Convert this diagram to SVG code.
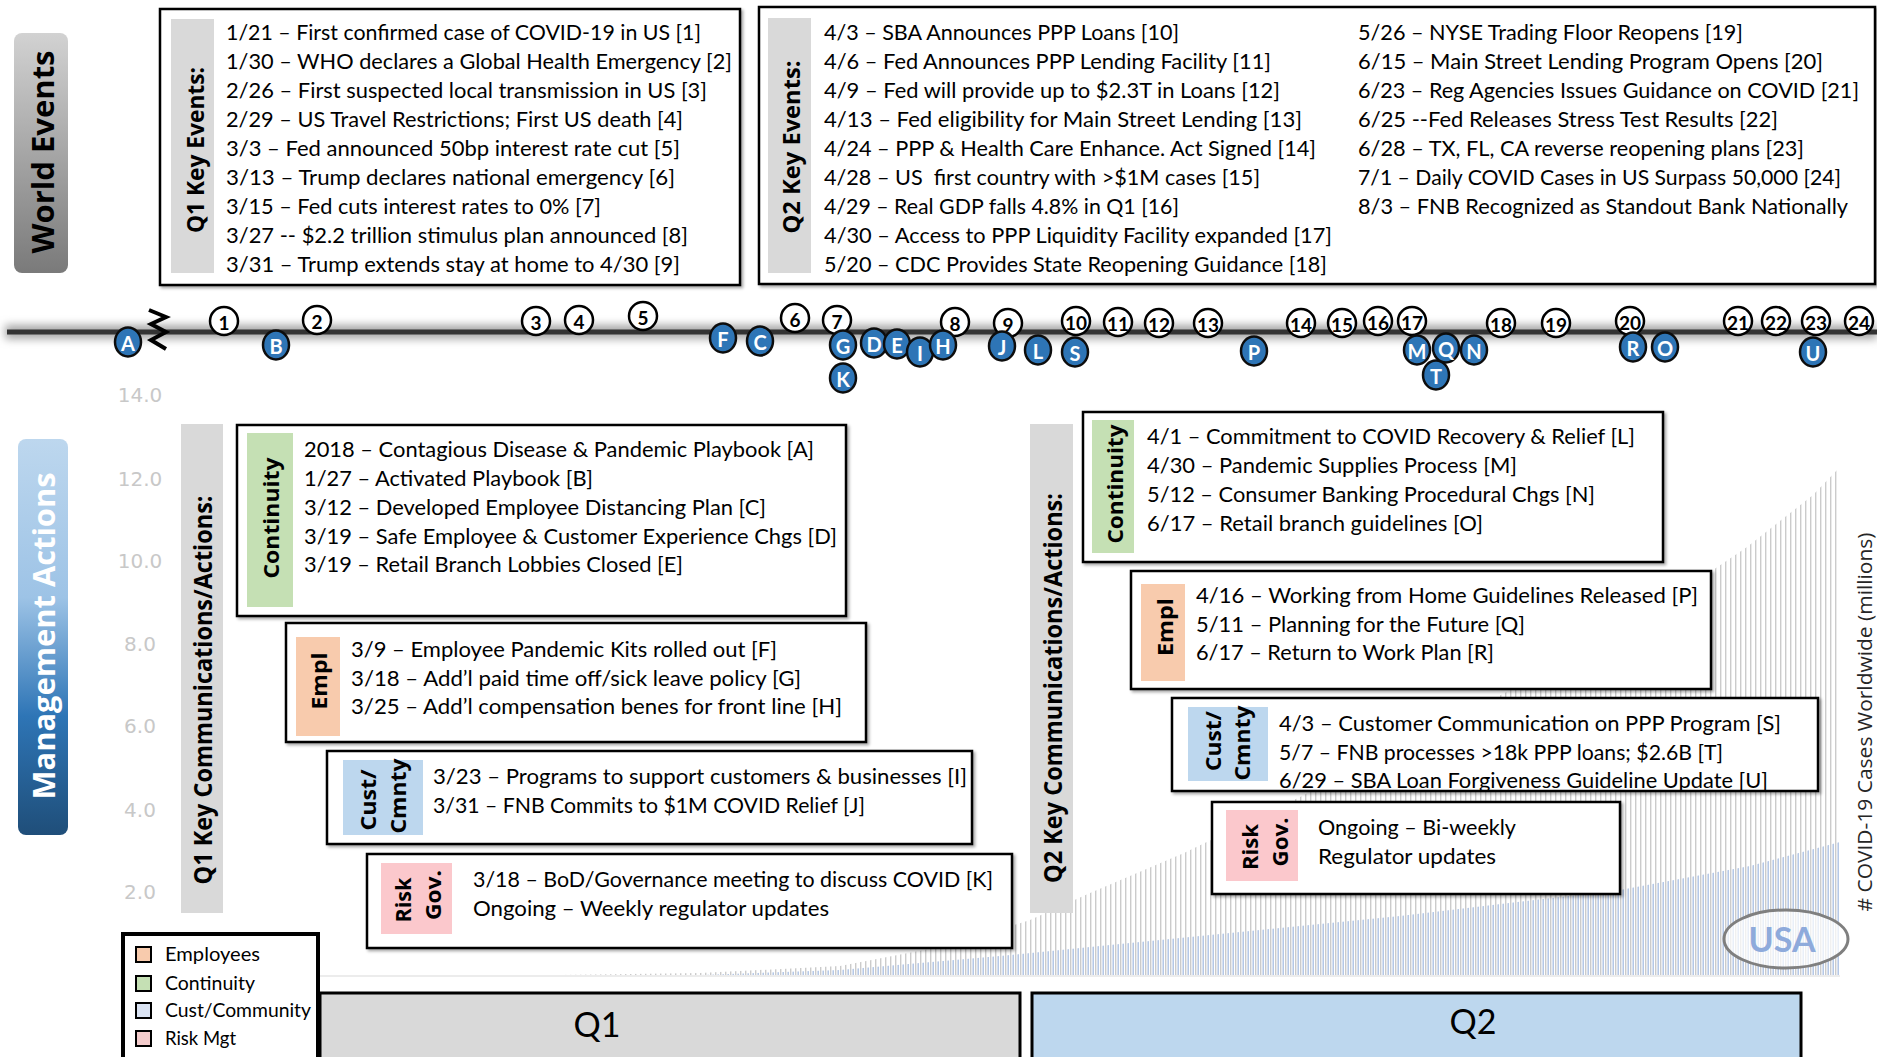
<svg xmlns="http://www.w3.org/2000/svg" width="1877" height="1057" viewBox="0 0 1877 1057">
<defs>
<linearGradient id="gWorld" x1="0" y1="0" x2="0" y2="1"><stop offset="0" stop-color="#d2d2d2"/><stop offset="1" stop-color="#7a7a7a"/></linearGradient>
<linearGradient id="gMgmt" x1="0" y1="0" x2="0" y2="1"><stop offset="0" stop-color="#bdd7ee"/><stop offset="0.4" stop-color="#9dc3e6"/><stop offset="0.7" stop-color="#2e75b6"/><stop offset="1" stop-color="#1f4e79"/></linearGradient>
<pattern id="pGray" width="5" height="10" patternUnits="userSpaceOnUse"><rect x="0" y="0" width="1.4" height="10" fill="#cbcbcb"/></pattern>
<pattern id="pBlue" width="5" height="10" patternUnits="userSpaceOnUse"><rect x="2.5" y="0" width="1.4" height="10" fill="#adc2e4"/></pattern>
<filter id="shadow" x="-5%" y="-5%" width="110%" height="120%"><feDropShadow dx="2" dy="2" stdDeviation="1.5" flood-color="#000" flood-opacity="0.35"/></filter>
<filter id="glow" x="-1%" y="-100%" width="102%" height="300%"><feGaussianBlur stdDeviation="4"/></filter>
</defs>
<style>
.t{font-family:Lato,"Liberation Sans",sans-serif;font-size:21.5px;fill:#000}
.lbl{font-family:"Open Sans","DejaVu Sans",sans-serif;font-weight:bold;fill:#000;text-anchor:middle;dominant-baseline:central}
.box{fill:#fff;stroke:#000;stroke-width:2.5;filter:url(#shadow)}
.num{fill:#fff;stroke:#000;stroke-width:2.5}
.let{fill:#2e75b6;stroke:#0d0d0d;stroke-width:2.5}
.nt{font-family:Lato,"Liberation Sans",sans-serif;font-weight:bold;font-size:19px;text-anchor:middle;dominant-baseline:central;fill:#000}
.lt{font-family:Lato,"Liberation Sans",sans-serif;font-weight:bold;font-size:20px;text-anchor:middle;dominant-baseline:central;fill:#fff}
.ax{font-family:"DejaVu Sans",sans-serif;font-size:20px;fill:#c8c8c8;text-anchor:middle}
.lg{font-family:Lato,"Liberation Sans",sans-serif;font-size:18.5px;fill:#000}
.sw{stroke:#000;stroke-width:2}
.cont{fill:#c5e0b4}.empl{fill:#f8cbad}.cust{fill:#bdd7ee}.risk{fill:#fbc8cc}.gray{fill:#d9d9d9}
</style>

<g id="chart">
<path d="M560 975 L700 973 L840 966 L950 945 L1030 920 L1090 893 L1184 853 L1300 797 L1450 722 L1567 660 L1676 595 L1747 547 L1813 495 L1840 467 L1840 975 Z" fill="url(#pGray)"/>
<path d="M700 975 L840 970 L1000 956 L1100 946 L1250 931 L1400 916 L1620 890 L1750 866 L1840 842 L1840 975 Z" fill="url(#pBlue)"/>
<line x1="300" y1="976" x2="1840" y2="976" stroke="#e6e6e6" stroke-width="1.5"/>
<text class="ax" x="140" y="402">14.0</text>
<text class="ax" x="140" y="486">12.0</text>
<text class="ax" x="140" y="568">10.0</text>
<text class="ax" x="140" y="651">8.0</text>
<text class="ax" x="140" y="733">6.0</text>
<text class="ax" x="140" y="817">4.0</text>
<text class="ax" x="140" y="899">2.0</text>
<text font-family="'Open Sans','DejaVu Sans',sans-serif" font-size="20" fill="#262626" text-anchor="middle" dominant-baseline="central" textLength="379" lengthAdjust="spacingAndGlyphs" transform="translate(1864 722) rotate(-90)"># COVID-19 Cases Worldwide (millions)</text>
</g>

<g id="world-events-label">
<rect x="14" y="33" width="54" height="240" rx="8" fill="url(#gWorld)"/>
<text class="lbl" font-size="31" textLength="203" lengthAdjust="spacingAndGlyphs" transform="translate(42 152) rotate(-90)">World Events</text>
</g>

<g id="q1-key-events">
<rect class="box" x="160" y="9" width="580" height="276"/>
<rect class="gray" x="171" y="19" width="43" height="254"/>
<text class="lbl" font-size="24" textLength="166" lengthAdjust="spacingAndGlyphs" transform="translate(194 150) rotate(-90)">Q1 Key Events:</text>
<text class="t" x="226" y="40" textLength="475" lengthAdjust="spacingAndGlyphs">1/21 – First confirmed case of COVID-19 in US [1]</text>
<text class="t" x="226" y="69" textLength="506" lengthAdjust="spacingAndGlyphs">1/30 – WHO declares a Global Health Emergency [2]</text>
<text class="t" x="226" y="98" textLength="481" lengthAdjust="spacingAndGlyphs">2/26 – First suspected local transmission in US [3]</text>
<text class="t" x="226" y="127" textLength="457" lengthAdjust="spacingAndGlyphs">2/29 – US Travel Restrictions; First US death [4]</text>
<text class="t" x="226" y="156" textLength="454" lengthAdjust="spacingAndGlyphs">3/3 – Fed announced 50bp interest rate cut [5]</text>
<text class="t" x="226" y="185" textLength="449" lengthAdjust="spacingAndGlyphs">3/13 – Trump declares national emergency [6]</text>
<text class="t" x="226" y="214" textLength="375" lengthAdjust="spacingAndGlyphs">3/15 – Fed cuts interest rates to 0% [7]</text>
<text class="t" x="226" y="243" textLength="462" lengthAdjust="spacingAndGlyphs">3/27 -- $2.2 trillion stimulus plan announced [8]</text>
<text class="t" x="226" y="272" textLength="454" lengthAdjust="spacingAndGlyphs">3/31 – Trump extends stay at home to 4/30 [9]</text>
</g>

<g id="q2-key-events">
<rect class="box" x="759" y="7" width="1116" height="277"/>
<rect class="gray" x="768" y="18" width="43" height="255"/>
<text class="lbl" font-size="24" textLength="173" lengthAdjust="spacingAndGlyphs" transform="translate(790 147) rotate(-90)">Q2 Key Events:</text>
<text class="t" x="824" y="40" textLength="355" lengthAdjust="spacingAndGlyphs">4/3 – SBA Announces PPP Loans [10]</text>
<text class="t" x="824" y="69" textLength="447" lengthAdjust="spacingAndGlyphs">4/6 – Fed Announces PPP Lending Facility [11]</text>
<text class="t" x="824" y="98" textLength="456" lengthAdjust="spacingAndGlyphs">4/9 – Fed will provide up to $2.3T in Loans [12]</text>
<text class="t" x="824" y="127" textLength="478" lengthAdjust="spacingAndGlyphs">4/13 – Fed eligibility for Main Street Lending [13]</text>
<text class="t" x="824" y="156" textLength="492" lengthAdjust="spacingAndGlyphs">4/24 – PPP &amp; Health Care Enhance. Act Signed [14]</text>
<text class="t" x="824" y="185" textLength="436" lengthAdjust="spacingAndGlyphs" xml:space="preserve">4/28 – US  first country with &gt;$1M cases [15]</text>
<text class="t" x="824" y="214" textLength="355" lengthAdjust="spacingAndGlyphs">4/29 – Real GDP falls 4.8% in Q1 [16]</text>
<text class="t" x="824" y="243" textLength="508" lengthAdjust="spacingAndGlyphs">4/30 – Access to PPP Liquidity Facility expanded [17]</text>
<text class="t" x="824" y="272" textLength="503" lengthAdjust="spacingAndGlyphs">5/20 – CDC Provides State Reopening Guidance [18]</text>
<text class="t" x="1358" y="40" textLength="385" lengthAdjust="spacingAndGlyphs">5/26 – NYSE Trading Floor Reopens [19]</text>
<text class="t" x="1358" y="69" textLength="465" lengthAdjust="spacingAndGlyphs">6/15 – Main Street Lending Program Opens [20]</text>
<text class="t" x="1358" y="98" textLength="501" lengthAdjust="spacingAndGlyphs">6/23 – Reg Agencies Issues Guidance on COVID [21]</text>
<text class="t" x="1358" y="127" textLength="420" lengthAdjust="spacingAndGlyphs">6/25 --Fed Releases Stress Test Results [22]</text>
<text class="t" x="1358" y="156" textLength="446" lengthAdjust="spacingAndGlyphs">6/28 – TX, FL, CA reverse reopening plans [23]</text>
<text class="t" x="1358" y="185" textLength="483" lengthAdjust="spacingAndGlyphs">7/1 – Daily COVID Cases in US Surpass 50,000 [24]</text>
<text class="t" x="1358" y="214" textLength="490" lengthAdjust="spacingAndGlyphs">8/3 – FNB Recognized as Standout Bank Nationally</text>
</g>

<g id="timeline">
<rect x="5" y="325" width="1872" height="14" fill="#a6a6a6" filter="url(#glow)"/>
<line x1="7" y1="332" x2="1877" y2="332" stroke="#333" stroke-width="5"/>
<polyline points="149,310 166,317 151,324 166,332 151,340 166,349" fill="none" stroke="#000" stroke-width="4" stroke-linejoin="miter"/>
</g>

<g id="event-markers">
<g id="ev1"><circle class="num" cx="224" cy="321" r="14"/><text class="nt" x="224" y="322">1</text></g>
<g id="ev2"><circle class="num" cx="317" cy="320" r="14"/><text class="nt" x="317" y="321">2</text></g>
<g id="ev3"><circle class="num" cx="536" cy="321" r="14"/><text class="nt" x="536" y="322">3</text></g>
<g id="ev4"><circle class="num" cx="579" cy="320" r="14"/><text class="nt" x="579" y="321">4</text></g>
<g id="ev5"><circle class="num" cx="643" cy="316" r="14"/><text class="nt" x="643" y="317">5</text></g>
<g id="ev6"><circle class="num" cx="795" cy="318" r="14"/><text class="nt" x="795" y="319">6</text></g>
<g id="ev7"><circle class="num" cx="837" cy="320" r="14"/><text class="nt" x="837" y="321">7</text></g>
<g id="ev8"><circle class="num" cx="955" cy="322" r="14"/><text class="nt" x="955" y="323">8</text></g>
<g id="ev9"><circle class="num" cx="1008" cy="323" r="14"/><text class="nt" x="1008" y="324">9</text></g>
<g id="ev10"><circle class="num" cx="1076" cy="321" r="14"/><text class="nt" x="1076" y="322">10</text></g>
<g id="ev11"><circle class="num" cx="1118" cy="322" r="14"/><text class="nt" x="1118" y="323">11</text></g>
<g id="ev12"><circle class="num" cx="1159" cy="323" r="14"/><text class="nt" x="1159" y="324">12</text></g>
<g id="ev13"><circle class="num" cx="1208" cy="323" r="14"/><text class="nt" x="1208" y="324">13</text></g>
<g id="ev14"><circle class="num" cx="1301" cy="323" r="14"/><text class="nt" x="1301" y="324">14</text></g>
<g id="ev15"><circle class="num" cx="1342" cy="323" r="14"/><text class="nt" x="1342" y="324">15</text></g>
<g id="ev16"><circle class="num" cx="1378" cy="321" r="14"/><text class="nt" x="1378" y="322">16</text></g>
<g id="ev17"><circle class="num" cx="1412" cy="321" r="14"/><text class="nt" x="1412" y="322">17</text></g>
<g id="ev18"><circle class="num" cx="1501" cy="323" r="14"/><text class="nt" x="1501" y="324">18</text></g>
<g id="ev19"><circle class="num" cx="1556" cy="323" r="14"/><text class="nt" x="1556" y="324">19</text></g>
<g id="ev20"><circle class="num" cx="1630" cy="321" r="14"/><text class="nt" x="1630" y="322">20</text></g>
<g id="ev21"><circle class="num" cx="1738" cy="321" r="14"/><text class="nt" x="1738" y="322">21</text></g>
<g id="ev22"><circle class="num" cx="1776" cy="321" r="14"/><text class="nt" x="1776" y="322">22</text></g>
<g id="ev23"><circle class="num" cx="1816" cy="321" r="14"/><text class="nt" x="1816" y="322">23</text></g>
<g id="ev24"><circle class="num" cx="1859" cy="321" r="14"/><text class="nt" x="1859" y="322">24</text></g>
</g>

<g id="action-markers">
<g id="actA"><ellipse class="let" cx="128" cy="342" rx="13" ry="14.5"/><text class="lt" x="128" y="343">A</text></g>
<g id="actB"><ellipse class="let" cx="276" cy="345" rx="13" ry="14.5"/><text class="lt" x="276" y="346">B</text></g>
<g id="actF"><ellipse class="let" cx="723" cy="338" rx="13" ry="14.5"/><text class="lt" x="723" y="339">F</text></g>
<g id="actC"><ellipse class="let" cx="760" cy="341" rx="13" ry="14.5"/><text class="lt" x="760" y="342">C</text></g>
<g id="actK"><ellipse class="let" cx="843" cy="378" rx="13" ry="14.5"/><text class="lt" x="843" y="379">K</text></g>
<g id="actG"><ellipse class="let" cx="843" cy="345" rx="13" ry="14.5"/><text class="lt" x="843" y="346">G</text></g>
<g id="actD"><ellipse class="let" cx="874" cy="343" rx="13" ry="14.5"/><text class="lt" x="874" y="344">D</text></g>
<g id="actE"><ellipse class="let" cx="897" cy="344" rx="13" ry="14.5"/><text class="lt" x="897" y="345">E</text></g>
<g id="actI"><ellipse class="let" cx="920" cy="352" rx="13" ry="14.5"/><text class="lt" x="920" y="353">I</text></g>
<g id="actH"><ellipse class="let" cx="943" cy="345" rx="13" ry="14.5"/><text class="lt" x="943" y="346">H</text></g>
<g id="actJ"><ellipse class="let" cx="1002" cy="346" rx="13" ry="14.5"/><text class="lt" x="1002" y="347">J</text></g>
<g id="actL"><ellipse class="let" cx="1038" cy="350" rx="13" ry="14.5"/><text class="lt" x="1038" y="351">L</text></g>
<g id="actS"><ellipse class="let" cx="1075" cy="352" rx="13" ry="14.5"/><text class="lt" x="1075" y="353">S</text></g>
<g id="actP"><ellipse class="let" cx="1254" cy="351" rx="13" ry="14.5"/><text class="lt" x="1254" y="352">P</text></g>
<g id="actT"><ellipse class="let" cx="1436" cy="375" rx="13" ry="14.5"/><text class="lt" x="1436" y="376">T</text></g>
<g id="actM"><ellipse class="let" cx="1417" cy="350" rx="13" ry="14.5"/><text class="lt" x="1417" y="351">M</text></g>
<g id="actQ"><ellipse class="let" cx="1446" cy="348" rx="13" ry="14.5"/><text class="lt" x="1446" y="349">Q</text></g>
<g id="actN"><ellipse class="let" cx="1474" cy="350" rx="13" ry="14.5"/><text class="lt" x="1474" y="351">N</text></g>
<g id="actR"><ellipse class="let" cx="1633" cy="347" rx="13" ry="14.5"/><text class="lt" x="1633" y="348">R</text></g>
<g id="actO"><ellipse class="let" cx="1665" cy="347" rx="13" ry="14.5"/><text class="lt" x="1665" y="348">O</text></g>
<g id="actU"><ellipse class="let" cx="1813" cy="352" rx="13" ry="14.5"/><text class="lt" x="1813" y="353">U</text></g>
</g>

<g id="management-actions-label">
<rect x="18" y="439" width="50" height="396" rx="8" fill="url(#gMgmt)"/>
<text class="lbl" font-size="31" style="fill:#fff" textLength="327" lengthAdjust="spacingAndGlyphs" transform="translate(43 636) rotate(-90)">Management Actions</text>
</g>

<g id="q1-actions-label">
<rect class="gray" x="181" y="424" width="42" height="489"/>
<text class="lbl" font-size="25" textLength="389" lengthAdjust="spacingAndGlyphs" transform="translate(202 690) rotate(-90)">Q1 Key Communications/Actions:</text>
</g>

<g id="q1-continuity">
<rect class="box" x="237" y="425" width="609" height="191"/>
<rect class="cont" x="247" y="433" width="46" height="174"/>
<text class="lbl" font-size="22" textLength="121" lengthAdjust="spacingAndGlyphs" transform="translate(270 518) rotate(-90)">Continuity</text>
<text class="t" x="304" y="457" textLength="510" lengthAdjust="spacingAndGlyphs">2018 – Contagious Disease &amp; Pandemic Playbook [A]</text>
<text class="t" x="304" y="486" textLength="289" lengthAdjust="spacingAndGlyphs">1/27 – Activated Playbook [B]</text>
<text class="t" x="304" y="515" textLength="462" lengthAdjust="spacingAndGlyphs">3/12 – Developed Employee Distancing Plan [C]</text>
<text class="t" x="304" y="544" textLength="533" lengthAdjust="spacingAndGlyphs">3/19 – Safe Employee &amp; Customer Experience Chgs [D]</text>
<text class="t" x="304" y="572" textLength="379" lengthAdjust="spacingAndGlyphs">3/19 – Retail Branch Lobbies Closed [E]</text>
</g>

<g id="q1-employees">
<rect class="box" x="286" y="623" width="580" height="119"/>
<rect class="empl" x="296" y="637" width="44" height="99"/>
<text class="lbl" font-size="22" textLength="57" lengthAdjust="spacingAndGlyphs" transform="translate(318 681) rotate(-90)">Empl</text>
<text class="t" x="351" y="657" textLength="426" lengthAdjust="spacingAndGlyphs">3/9 – Employee Pandemic Kits rolled out [F]</text>
<text class="t" x="351" y="686" textLength="450" lengthAdjust="spacingAndGlyphs">3/18 – Add’l paid time off/sick leave policy [G]</text>
<text class="t" x="351" y="714" textLength="491" lengthAdjust="spacingAndGlyphs">3/25 – Add’l compensation benes for front line [H]</text>
</g>

<g id="q1-customer">
<rect class="box" x="327" y="751" width="645" height="93"/>
<rect class="cust" x="343" y="760" width="80" height="75"/>
<text class="lbl" font-size="22" textLength="61" lengthAdjust="spacingAndGlyphs" transform="translate(367 800) rotate(-90)">Cust/</text>
<text class="lbl" font-size="22" textLength="75" lengthAdjust="spacingAndGlyphs" transform="translate(397 796) rotate(-90)">Cmnty</text>
<text class="t" x="433" y="784" textLength="534" lengthAdjust="spacingAndGlyphs">3/23 – Programs to support customers &amp; businesses [I]</text>
<text class="t" x="433" y="813" textLength="432" lengthAdjust="spacingAndGlyphs">3/31 – FNB Commits to $1M COVID Relief [J]</text>
</g>

<g id="q1-risk">
<rect class="box" x="367" y="854" width="645" height="94"/>
<rect class="risk" x="381" y="863" width="71" height="71"/>
<text class="lbl" font-size="22" textLength="45" lengthAdjust="spacingAndGlyphs" transform="translate(402 900) rotate(-90)">Risk</text>
<text class="lbl" font-size="22" textLength="50" lengthAdjust="spacingAndGlyphs" transform="translate(432 895) rotate(-90)">Gov.</text>
<text class="t" x="473" y="887" textLength="520" lengthAdjust="spacingAndGlyphs">3/18 – BoD/Governance meeting to discuss COVID [K]</text>
<text class="t" x="473" y="916" textLength="356" lengthAdjust="spacingAndGlyphs">Ongoing – Weekly regulator updates</text>
</g>

<g id="q2-actions-label">
<rect class="gray" x="1030" y="424" width="43" height="489"/>
<text class="lbl" font-size="25" textLength="390" lengthAdjust="spacingAndGlyphs" transform="translate(1052 688) rotate(-90)">Q2 Key Communications/Actions:</text>
</g>

<g id="q2-continuity">
<rect class="box" x="1083" y="412" width="580" height="150"/>
<rect class="cont" x="1092" y="420" width="42" height="133"/>
<text class="lbl" font-size="22" textLength="119" lengthAdjust="spacingAndGlyphs" transform="translate(1114 484) rotate(-90)">Continuity</text>
<text class="t" x="1147" y="444" textLength="488" lengthAdjust="spacingAndGlyphs">4/1 – Commitment to COVID Recovery &amp; Relief [L]</text>
<text class="t" x="1147" y="473" textLength="370" lengthAdjust="spacingAndGlyphs">4/30 – Pandemic Supplies Process [M]</text>
<text class="t" x="1147" y="502" textLength="448" lengthAdjust="spacingAndGlyphs">5/12 – Consumer Banking Procedural Chgs [N]</text>
<text class="t" x="1147" y="531" textLength="336" lengthAdjust="spacingAndGlyphs">6/17 – Retail branch guidelines [O]</text>
</g>

<g id="q2-employees">
<rect class="box" x="1131" y="571" width="580" height="118"/>
<rect class="empl" x="1141" y="584" width="44" height="97"/>
<text class="lbl" font-size="22" textLength="58" lengthAdjust="spacingAndGlyphs" transform="translate(1164 627) rotate(-90)">Empl</text>
<text class="t" x="1196" y="603" textLength="502" lengthAdjust="spacingAndGlyphs">4/16 – Working from Home Guidelines Released [P]</text>
<text class="t" x="1196" y="632" textLength="329" lengthAdjust="spacingAndGlyphs">5/11 – Planning for the Future [Q]</text>
<text class="t" x="1196" y="660" textLength="298" lengthAdjust="spacingAndGlyphs">6/17 – Return to Work Plan [R]</text>
</g>

<g id="q2-customer">
<rect class="box" x="1172" y="698" width="646" height="93"/>
<rect class="cust" x="1188" y="707" width="80" height="74"/>
<text class="lbl" font-size="22" textLength="60" lengthAdjust="spacingAndGlyphs" transform="translate(1212 741) rotate(-90)">Cust/</text>
<text class="lbl" font-size="22" textLength="75" lengthAdjust="spacingAndGlyphs" transform="translate(1241 743) rotate(-90)">Cmnty</text>
<text class="t" x="1279" y="731" textLength="502" lengthAdjust="spacingAndGlyphs">4/3 – Customer Communication on PPP Program [S]</text>
<text class="t" x="1279" y="760" textLength="444" lengthAdjust="spacingAndGlyphs">5/7 – FNB processes &gt;18k PPP loans; $2.6B [T]</text>
<text class="t" x="1279" y="788" textLength="489" lengthAdjust="spacingAndGlyphs">6/29 – SBA Loan Forgiveness Guideline Update [U]</text>
</g>

<g id="q2-risk">
<rect class="box" x="1212" y="802" width="408" height="92"/>
<rect class="risk" x="1226" y="810" width="72" height="71"/>
<text class="lbl" font-size="22" textLength="46" lengthAdjust="spacingAndGlyphs" transform="translate(1249 847) rotate(-90)">Risk</text>
<text class="lbl" font-size="22" textLength="49" lengthAdjust="spacingAndGlyphs" transform="translate(1279 842) rotate(-90)">Gov.</text>
<text class="t" x="1318" y="835" textLength="198" lengthAdjust="spacingAndGlyphs">Ongoing – Bi-weekly</text>
<text class="t" x="1318" y="864" textLength="178" lengthAdjust="spacingAndGlyphs">Regulator updates</text>
</g>

<g id="usa-badge">
<ellipse cx="1786" cy="939" rx="62" ry="29" fill="#fff" fill-opacity="0.7" stroke="#7f7f7f" stroke-width="3"/>
<text x="1782" y="952" font-family="Lato,'Liberation Sans',sans-serif" font-weight="bold" font-size="34" fill="#8eaadb" text-anchor="middle">USA</text>
</g>

<g id="legend">
<rect x="123" y="934" width="195" height="130" fill="#fff" stroke="#000" stroke-width="4"/>
<rect class="sw" x="136" y="947" width="15" height="15" fill="#f8cbad"/>
<text class="lg" x="165" y="961" textLength="95" lengthAdjust="spacingAndGlyphs">Employees</text>
<rect class="sw" x="136" y="976" width="15" height="15" fill="#c5e0b4"/>
<text class="lg" x="165" y="990" textLength="90" lengthAdjust="spacingAndGlyphs">Continuity</text>
<rect class="sw" x="136" y="1003" width="15" height="15" fill="#dae3f3"/>
<text class="lg" x="165" y="1017" textLength="146" lengthAdjust="spacingAndGlyphs">Cust/Community</text>
<rect class="sw" x="136" y="1031" width="15" height="15" fill="#f4cccc"/>
<text class="lg" x="165" y="1045" textLength="71" lengthAdjust="spacingAndGlyphs">Risk Mgt</text>
</g>

<g id="q1-bar">
<rect x="320" y="993" width="700" height="70" fill="#d9d9d9" stroke="#000" stroke-width="3"/>
<text x="597" y="1037" font-family="Lato,'Liberation Sans',sans-serif" font-size="34" text-anchor="middle" fill="#000">Q1</text>
</g>
<g id="q2-bar">
<rect x="1032" y="993" width="769" height="70" fill="#bdd7ee" stroke="#000" stroke-width="3"/>
<text x="1473" y="1034" font-family="Lato,'Liberation Sans',sans-serif" font-size="34" text-anchor="middle" fill="#000">Q2</text>
</g>
</svg>
